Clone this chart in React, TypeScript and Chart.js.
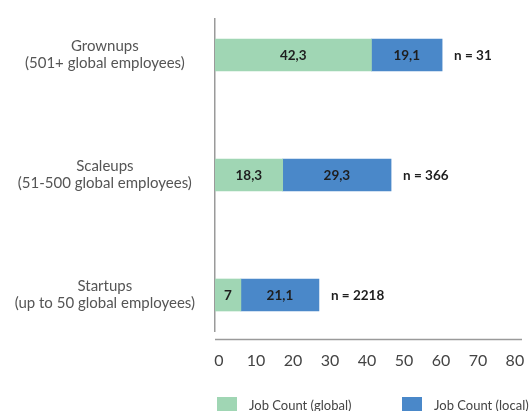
import React, { useEffect, useRef } from "react";
import { Chart, registerables } from "chart.js";

Chart.register(...registerables);

const categoryNames = ["Grownups", "Scaleups", "Startups"];
const categorySubtitles = [
  "(501+ global employees)",
  "(51-500 global employees)",
  "(up to 50 global employees)",
];
const globalValues = [42.3, 18.3, 7];
const localValues = [19.1, 29.3, 21.1];
const sampleSizes = [31, 366, 2218];
const xTickValues = [0, 10, 20, 30, 40, 50, 60, 70, 80];
const seriesLabels = ["Job Count (global)", "Job Count (local)"];
const seriesColors = ["#a0d6b4", "#4a88c9"];

const FONT = "Lato, 'Noto Sans', sans-serif";
const fmt = (v: number) => String(v).replace(".", ",");

const labelPlugin = {
  id: "barLabels",
  afterDatasetsDraw(chart: any) {
    const ctx = chart.ctx;
    ctx.save();
    ctx.font = `bold 13.5px ${FONT}`;
    ctx.fillStyle = "#1e1e1e";
    ctx.textBaseline = "middle";
    chart.data.datasets.forEach((ds: any, di: number) => {
      const meta = chart.getDatasetMeta(di);
      meta.data.forEach((el: any, i: number) => {
        const v = ds.data[i].x;
        ctx.textAlign = "center";
        ctx.fillText(fmt(v), (el.x + el.base) / 2, el.y + 1);
        if (di === chart.data.datasets.length - 1) {
          ctx.textAlign = "left";
          ctx.fillText(`n = ${sampleSizes[i]}`, el.x + 12, el.y + 1);
        }
      });
    });
    ctx.restore();
  },
};

const axisLinePlugin = {
  id: "xAxisLine",
  afterDraw(chart: any) {
    const { ctx, chartArea } = chart;
    ctx.save();
    ctx.strokeStyle = "#9a9a9a";
    ctx.lineWidth = 1.5;
    ctx.beginPath();
    ctx.moveTo(chartArea.left, chartArea.bottom + 8.5);
    ctx.lineTo(chartArea.right, chartArea.bottom + 8.5);
    ctx.stroke();
    ctx.restore();
  },
};

const legendPlugin = {
  id: "customLegend",
  afterDraw(chart: any) {
    const { ctx, chartArea } = chart;
    ctx.save();
    const offsets = [2, 187];
    chart.data.datasets.forEach((ds: any, i: number) => {
      const x = chartArea.left + offsets[i];
      ctx.fillStyle = ds.backgroundColor;
      ctx.fillRect(x, 397, 20, 16);
      ctx.fillStyle = "#444";
      ctx.font = `13px ${FONT}`;
      ctx.textAlign = "left";
      ctx.textBaseline = "middle";
      ctx.fillText(ds.label, x + 32, 406);
    });
    ctx.restore();
  },
};

export default function App() {
  const ref = useRef<HTMLCanvasElement | null>(null);
  useEffect(() => {
    if (!ref.current) return;
    const chart = new Chart(ref.current, {
      type: "bar",
      data: {
        datasets: [
          {
            label: seriesLabels[0],
            data: globalValues.map((v, i) => ({ x: v, y: i })),
            backgroundColor: seriesColors[0],
            borderWidth: 0,
            barThickness: 32,
          },
          {
            label: seriesLabels[1],
            data: localValues.map((v, i) => ({ x: v, y: i })),
            backgroundColor: seriesColors[1],
            borderWidth: 0,
            barThickness: 32,
          },
        ] as any,
      },
      options: {
        indexAxis: "y",
        animation: false,
        responsive: true,
        maintainAspectRatio: false,
        layout: { padding: { top: 19, right: 7, bottom: 0, left: 0 } },
        plugins: {
          legend: { display: false },
          tooltip: { enabled: false },
        },
        scales: {
          x: {
            type: "linear",
            stacked: true,
            min: 0,
            max: 83,
            offset: false,
            grid: { display: false, drawTicks: false },
            border: { display: false },
            afterBuildTicks: (scale: any) => {
              scale.ticks = xTickValues.map((v) => ({ value: v }));
            },
            afterFit: (scale: any) => {
              scale.height = 80;
              scale.paddingLeft = 0;
              scale.paddingRight = 0;
            },
            ticks: {
              padding: 20,
              labelOffset: 4,
              color: "#444",
              font: { family: FONT, size: 16 },
              maxRotation: 0,
              autoSkip: false,
            },
          },
          y: {
            type: "linear",
            stacked: true,
            reverse: true,
            offset: false,
            min: -0.3,
            max: 2.3,
            grid: { display: false, drawTicks: false, offset: false },
            border: { display: true, color: "#9a9a9a", width: 1.5 },
            afterBuildTicks: (scale: any) => {
              scale.ticks = categoryNames.map((_, i) => ({ value: i }));
            },
            afterFit: (scale: any) => {
              scale.width = 215;
              scale.paddingTop = 0;
              scale.paddingBottom = 0;
            },
            ticks: {
              crossAlign: "center",
              padding: 20,
              color: "#555",
              font: { family: FONT, size: 15, lineHeight: 1.13 },
              autoSkip: false,
              callback: (value: any) => {
                const i = Math.round(Number(value));
                return [categoryNames[i], categorySubtitles[i]];
              },
            },
          },
        } as any,
      },
      plugins: [labelPlugin, axisLinePlugin, legendPlugin],
    });
    return () => chart.destroy();
  }, []);
  return (
    <div style={{ position: "fixed", left: 0, top: 0, width: 529, height: 411, background: "#fff" }}>
      <canvas ref={ref} style={{ width: "100%", height: "100%" }} />
    </div>
  );
}
